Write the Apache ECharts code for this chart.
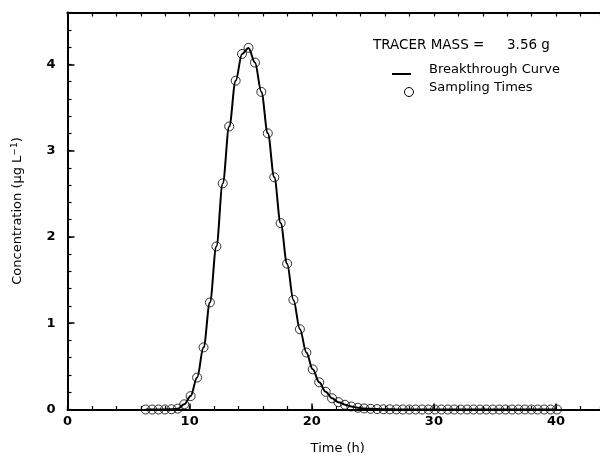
<!DOCTYPE html>
<html>
<head>
<meta charset="utf-8">
<script src="https://cdn.jsdelivr.net/npm/echarts@6/dist/echarts.min.js"></script>
<style>
html,body{margin:0;padding:0;background:#fff;}
#chart{width:600px;height:456px;}
</style>
</head>
<body>
<div id="chart"></div>
<script>
// Sampling times (h) read from the circle positions
const sampleTimes = [6.40, 6.93, 7.45, 7.98, 8.51, 9.03, 9.56, 10.08, 10.61, 11.14, 11.66, 12.19, 12.71,
  13.24, 13.77, 14.29, 14.82, 15.35, 15.87, 16.40, 16.93, 17.45, 17.98, 18.50, 19.03, 19.56, 20.08,
  20.61, 21.14, 21.66, 22.19, 22.72, 23.24, 23.77, 24.29, 24.82, 25.35, 25.87, 26.40, 26.93, 27.45,
  27.98, 28.50, 29.03, 29.56, 30.08, 30.61, 31.14, 31.66, 32.19, 32.72, 33.24, 33.77, 34.29, 34.82,
  35.35, 35.87, 36.40, 36.93, 37.45, 37.98, 38.50, 39.03, 39.56, 40.08];
// Concentration (µg/L) at each sampling time
const sampleConc = [0, 0, 0, 0, 0.003, 0.01, 0.06, 0.155, 0.37, 0.72, 1.24, 1.89, 2.62,
  3.28, 3.81, 4.12, 4.19, 4.02, 3.68, 3.20, 2.69, 2.16, 1.69, 1.27, 0.93, 0.66, 0.465,
  0.315, 0.205, 0.13, 0.085, 0.055, 0.035, 0.02, 0.012, 0.008, 0.005, 0.003, 0.002, 0.001, 0,
  0, 0, 0, 0, 0, 0, 0, 0, 0, 0, 0, 0, 0, 0,
  0, 0, 0, 0, 0, 0, 0, 0, 0, 0];
const xTickLabels = ['0', '10', '20', '30', '40'];
const yTickLabels = ['0', '1', '2', '3', '4'];
const tracerMass = '3.56 g';

const FONT = 'DejaVu Sans';
const pts = sampleTimes.map((t, i) => [t, sampleConc[i]]);

const X_MAX = 43.6, Y_MAX = 4.6;
const chart = echarts.init(document.getElementById('chart'), null, {renderer: 'canvas'});
chart.setOption({
  animation: false,
  backgroundColor: '#fff',
  grid: {left: 67.5, top: 12.5, right: 0, bottom: 46.5, containLabel: false, outerBoundsMode: 'none'},
  xAxis: [
    {
      type: 'value', position: 'bottom', min: 0, max: X_MAX, interval: 10,
      name: 'Time (h)', nameLocation: 'middle', nameGap: 33,
      nameTextStyle: {fontFamily: FONT, fontSize: 13, color: '#000', padding: [0, 0, 0, 8]},
      axisLine: {show: true, onZero: false, lineStyle: {color: '#000', width: 2}},
      axisTick: {show: true, inside: true, length: 6, lineStyle: {color: '#000', width: 1.5}},
      axisLabel: {
        margin: 6, fontFamily: FONT, fontSize: 13, fontWeight: 'bold', color: '#000',
        showMaxLabel: false,
        formatter: v => { const s = String(Math.round(v)); return (Math.abs(v - Math.round(v)) < 1e-6 && xTickLabels.includes(s)) ? s : ''; }
      },
      splitLine: {show: false}
    },
    {
      type: 'value', position: 'bottom', min: 0, max: X_MAX, interval: 2,
      axisLine: {show: false}, axisLabel: {show: false}, splitLine: {show: false},
      axisTick: {show: true, inside: true, length: 3.5, lineStyle: {color: '#000', width: 1.2}}
    },
    {
      type: 'value', position: 'top', min: 0, max: X_MAX, interval: 2,
      axisLine: {show: true, onZero: false, lineStyle: {color: '#000', width: 2}},
      axisLabel: {show: false}, splitLine: {show: false},
      axisTick: {show: true, inside: true, length: 4, lineStyle: {color: '#000', width: 1.2}}
    }
  ],
  yAxis: [
    {
      type: 'value', position: 'left', min: 0, max: Y_MAX, interval: 1,
      name: 'Concentration (μg L{sup|−1})', nameLocation: 'middle', nameGap: 42, nameRotate: 90,
      nameTextStyle: {fontFamily: FONT, fontSize: 13, color: '#000',
        rich: {sup: {fontFamily: FONT, fontSize: 9, color: '#000', verticalAlign: 'top', padding: [0, 0, 6, 0]}}},
      axisLine: {show: true, onZero: false, lineStyle: {color: '#000', width: 2}},
      axisTick: {show: true, inside: true, length: 7, lineStyle: {color: '#000', width: 1.5}},
      axisLabel: {
        margin: 12, fontFamily: FONT, fontSize: 13, fontWeight: 'bold', color: '#000',
        showMaxLabel: false,
        formatter: v => { const s = String(Math.round(v)); return (Math.abs(v - Math.round(v)) < 1e-6 && yTickLabels.includes(s)) ? s : ''; }
      },
      splitLine: {show: false}
    },
    {
      type: 'value', position: 'left', min: 0, max: Y_MAX, interval: 0.2,
      axisLine: {show: false}, axisLabel: {show: false}, splitLine: {show: false},
      axisTick: {show: true, inside: true, length: 4, lineStyle: {color: '#000', width: 1.2}}
    }
  ],
  series: [
    {
      name: 'Breakthrough Curve', type: 'line', xAxisIndex: 0, yAxisIndex: 0,
      data: pts, showSymbol: false, smooth: 0.35, smoothMonotone: 'x',
      lineStyle: {color: '#000', width: 2}, z: 2, silent: true
    },
    {
      name: 'Sampling Times', type: 'scatter', xAxisIndex: 0, yAxisIndex: 0,
      data: pts, symbol: 'circle', symbolSize: 9,
      itemStyle: {color: 'rgba(0,0,0,0)', borderColor: '#000', borderWidth: 1}, z: 3, silent: true
    }
  ],
  graphic: [
    {type: 'text', left: 373, top: 38, style: {text: 'TRACER MASS =', font: '13.5px "DejaVu Sans"', fill: '#000'}},
    {type: 'text', left: 507, top: 38, style: {text: tracerMass, font: '13.5px "DejaVu Sans"', fill: '#000'}},
    {type: 'line', shape: {x1: 392, y1: 74, x2: 411, y2: 74}, style: {stroke: '#000', lineWidth: 2}},
    {type: 'text', left: 429, top: 63, style: {text: 'Breakthrough Curve', font: '13px "DejaVu Sans"', fill: '#000'}},
    {type: 'circle', shape: {cx: 409, cy: 92, r: 4.5}, style: {fill: 'none', stroke: '#000', lineWidth: 1}},
    {type: 'text', left: 429, top: 81, style: {text: 'Sampling Times', font: '13px "DejaVu Sans"', fill: '#000'}}
  ]
});
</script>
</body>
</html>
